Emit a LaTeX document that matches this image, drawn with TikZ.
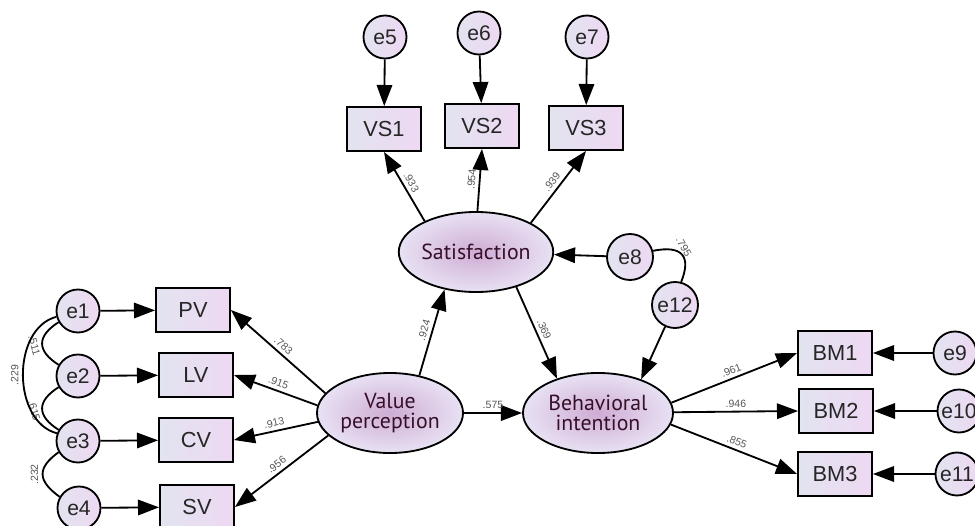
\documentclass[tikz,border=0pt]{standalone}
\usepackage{fontspec}
\setmainfont{Liberation Sans}
\newfontfamily\latfont{PT Sans}
\usetikzlibrary{shapes,arrows.meta,positioning}

\definecolor{boxl}{RGB}{226,228,240}
\definecolor{boxr}{RGB}{238,216,242}
\definecolor{ellin}{RGB}{206,172,212}
\definecolor{ellout}{RGB}{232,225,243}
\definecolor{lattxt}{RGB}{55,15,40}
\definecolor{coeftxt}{RGB}{85,85,85}

\tikzset{
  obs/.style={draw, rectangle, line width=1.3pt, minimum width=1.85cm, minimum height=1.1cm, inner sep=0pt,
    left color=boxl, right color=boxr, text=black!85, font=\fontsize{15.5}{17}\selectfont},
  err/.style={draw, circle, line width=1.3pt, minimum size=1.075cm, inner sep=0pt,
    left color=boxl, right color=boxr, text=black!85, font=\fontsize{15}{17}\selectfont},
  lat/.style={draw, ellipse, line width=1.3pt, minimum width=3.65cm, minimum height=2cm, inner sep=0pt,
    inner color=ellin, outer color=ellout, align=center, text=lattxt, font=\latfont\fontsize{15.5}{14}\selectfont},
  reg/.style={-{Triangle[length=15pt,width=11pt]}, line width=1.3pt},
  cov/.style={line width=1.3pt},
  coef/.style={sloped, above, inner sep=2.5pt, text=coeftxt, font=\fontsize{7.5}{8}\selectfont},
  covlbl/.style={inner sep=2.5pt, text=coeftxt, font=\fontsize{7.5}{8}\selectfont},
}

\begin{document}
\begin{tikzpicture}[x=0.025cm, y=-0.025cm]
\useasboundingbox (0,0) rectangle (975,526);

% latent variables
\node[lat] (Sat) at (476,252) {Satisfaction};
\node[lat] (VP) at (390,413) {Value\\perception};
\node[lat, minimum width=3.75cm] (BI) at (598,413) {Behavioral\\intention};

% indicators
\node[obs] (VS1) at (384,129) {VS1};
\node[obs] (VS2) at (482,126) {VS2};
\node[obs] (VS3) at (586,128) {VS3};
\node[obs] (PV) at (193,310) {PV};
\node[obs] (LV) at (196,375) {LV};
\node[obs] (CV) at (196,440) {CV};
\node[obs] (SV) at (197,507) {SV};
\node[obs] (BM1) at (835,353) {BM1};
\node[obs] (BM2) at (836,411) {BM2};
\node[obs] (BM3) at (835,474) {BM3};

% error terms
\node[err] (e1) at (78,311) {e1};
\node[err] (e2) at (78,376) {e2};
\node[err] (e3) at (78,441) {e3};
\node[err] (e4) at (79,508) {e4};
\node[err] (e5) at (385,37) {e5};
\node[err] (e6) at (479,33) {e6};
\node[err] (e7) at (587,37) {e7};
\node[err, minimum size=1.15cm] (e8) at (630,257) {e8};
\node[err, minimum size=1.15cm] (e12) at (675,305) {e12};
\node[err] (e9) at (955,353) {e9};
\node[err] (e10) at (959,411) {e10};
\node[err] (e11) at (957,474) {e11};

\draw[reg] (e1) -- (PV);
\draw[reg] (e2) -- (LV);
\draw[reg] (e3) -- (CV);
\draw[reg] (e4) -- (SV);
\draw[reg] (e5) -- (VS1);
\draw[reg] (e6) -- (VS2);
\draw[reg] (e7) -- (VS3);
\draw[reg] (e9) -- (BM1);
\draw[reg] (e10) -- (BM2);
\draw[reg] (e11) -- (BM3);
\draw[reg] (e8) -- (Sat);
\draw[reg] (e12) -- (BI.38);

% structural paths
\draw[reg] (VP) -- node[coef] {.575} (BI);
\draw[reg] (VP.52) -- node[coef] {.924} (Sat.-130);
\draw[reg] (Sat.-41) -- node[coef] {.369} (BI.140);

% loadings
\draw[reg] (VP.163) -- node[coef] {.783} (PV.east);
\draw[reg] (VP.174) -- node[coef] {.915} (LV.east);
\draw[reg] (VP.187) -- node[coef] {.913} (CV.east);
\draw[reg] (VP.200) -- node[coef] {.956} (SV.east);
\draw[reg] (Sat.149) -- node[coef] {.933} (VS1.south);
\draw[reg] (Sat.88) -- node[coef] {.954} (VS2.south);
\draw[reg] (Sat.28) -- node[coef] {.939} (VS3.south);
\draw[reg] (BI.8) -- node[coef] {.961} (BM1.west);
\draw[reg] (BI) -- node[coef] {.946} (BM2.west);
\draw[reg] (BI.-9) -- node[coef] {.855} (BM3.west);

% covariances
\draw[cov] (e1.210) .. controls +(-22,14) and +(-22,-14) .. node[covlbl, rotate=-75, below] {.511} (e2.150);
\draw[cov] (e2.210) .. controls +(-22,14) and +(-22,-14) .. node[covlbl, rotate=-75, below] {.615} (e3.150);
\draw[cov] (e3.210) .. controls +(-22,16) and +(-22,-16) .. node[covlbl, rotate=90, above] {.232} (e4.150);
\draw[cov] (e1.195) .. controls +(-45,12) and +(-45,-12) .. node[covlbl, rotate=90, above] {.229} (e3.160);
\draw[cov] (e8.15) .. controls +(30,-6) and +(10,-25) .. node[covlbl, pos=0.35, rotate=-60, above] {.795} (e12.75);
\end{tikzpicture}
\end{document}
